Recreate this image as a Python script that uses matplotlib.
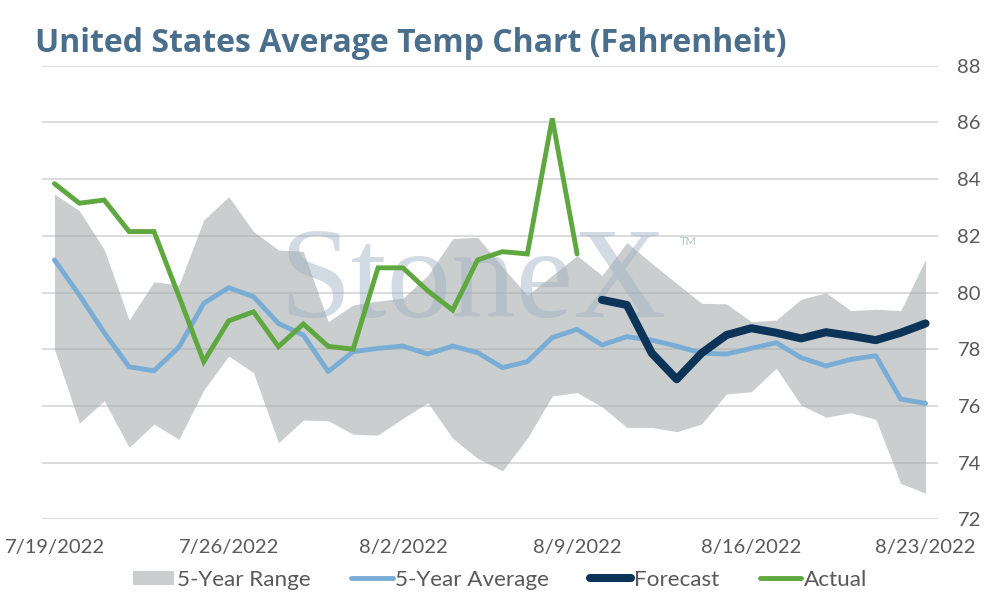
import matplotlib
matplotlib.use("Agg")
import matplotlib.pyplot as plt
from matplotlib.patches import Patch
from matplotlib.lines import Line2D
import pandas as pd

dates = pd.date_range("2022-07-19", periods=36, freq="D")

range_upper = [83.47, 82.89, 81.52, 79.03, 80.38, 80.26, 82.56, 83.38, 82.15, 81.50,
               81.45, 78.97, 79.56, 79.70, 79.80, 80.60, 81.90, 81.95, 80.90, 79.90,
               80.60, 81.30, 80.60, 81.76, 81.03, 80.32, 79.62, 79.60, 78.97, 79.03,
               79.76, 79.99, 79.36, 79.41, 79.36, 81.17]
range_lower = [78.00, 75.39, 76.18, 74.54, 75.36, 74.82, 76.56, 77.76, 77.17, 74.70,
               75.50, 75.48, 75.00, 74.97, 75.56, 76.11, 74.86, 74.15, 73.71, 74.86,
               76.35, 76.47, 75.97, 75.24, 75.24, 75.09, 75.36, 76.42, 76.50, 77.33,
               76.03, 75.60, 75.76, 75.53, 73.27, 72.92]
avg5 = [81.15, 79.91, 78.58, 77.38, 77.24, 78.07, 79.62, 80.17, 79.85, 78.91,
        78.50, 77.21, 77.91, 78.03, 78.11, 77.83, 78.11, 77.88, 77.35, 77.56,
        78.41, 78.70, 78.15, 78.44, 78.32, 78.11, 77.86, 77.83, 78.03, 78.23,
        77.70, 77.41, 77.64, 77.77, 76.24, 76.09]
actual = [83.84, 83.15, 83.26, 82.15, 82.15, 79.87, 77.56, 79.00, 79.32, 78.09,
          78.89, 78.10, 78.00, 80.87, 80.87, 80.06, 79.38, 81.15, 81.44, 81.36,
          86.14, 81.36]
forecast = [79.74, 79.56, 77.86, 76.94, 77.86, 78.50, 78.74, 78.58, 78.38, 78.60,
            78.47, 78.32, 78.58, 78.91]

tick_dates = pd.to_datetime(["2022-07-19", "2022-07-26", "2022-08-02",
                             "2022-08-09", "2022-08-16", "2022-08-23"])
tick_labels = ["7/19/2022", "7/26/2022", "8/2/2022", "8/9/2022", "8/16/2022", "8/23/2022"]
y_ticks = [72, 74, 76, 78, 80, 82, 84, 86, 88]

plt.rcParams["font.family"] = ["Lato", "DejaVu Sans"]

fig = plt.figure(figsize=(9.94, 6.0), dpi=100)
ax = fig.add_axes([42 / 994, 1 - 519.3 / 600, (938 - 42) / 994, (519.3 - 65.7) / 600])

c_band = "#a3a9ac"
c_avg = "#7aadd6"
c_fc = "#0c3358"
c_act = "#5ea83f"
c_text = "#595959"

ax.set_ylim(72, 88)
ax.set_xlim(dates[0] - pd.Timedelta(hours=12), dates[-1] + pd.Timedelta(hours=12))
ax.set_yticks(y_ticks)
ax.yaxis.tick_right()
ax.grid(axis="y", color="#d9d9d9", linewidth=1.3, zorder=0)
ax.set_axisbelow(True)
for s in ax.spines.values():
    s.set_visible(False)
ax.tick_params(axis="y", length=0, pad=14, labelsize=14.5, labelcolor=c_text)
ax.tick_params(axis="x", length=0, pad=14, labelsize=14.5, labelcolor=c_text)
ax.set_xticks(tick_dates)
ax.set_xticklabels(tick_labels)

ax.fill_between(dates, range_lower, range_upper, color=c_band, alpha=0.57,
                linewidth=0, zorder=1)

# watermark
ax.text(0.265, 0.445, "StoneX", transform=ax.transAxes, fontsize=93,
        family=["Liberation Serif"], color="#9dafc3", alpha=0.45, zorder=2,
        ha="left", va="baseline")
ax.text(0.712, 0.605, "TM", transform=ax.transAxes, fontsize=8,
        color="#b5c2d0", zorder=2, ha="left", va="baseline")

ax.plot(dates, avg5, color=c_avg, linewidth=3.5, zorder=3, solid_capstyle="round")
ax.plot(dates[:len(actual)], actual, color=c_act, linewidth=3.5, zorder=4,
        solid_capstyle="round", solid_joinstyle="miter")
ax.plot(dates[len(dates) - len(forecast):], forecast, color=c_fc, linewidth=5.8,
        zorder=5, solid_capstyle="round")

fig.text(35 / 994, 1 - 52 / 600, "United States Average Temp Chart (Fahrenheit)",
         fontsize=23, fontweight="bold", color="#4a6f8c", ha="left", va="baseline",
         family=["Open Sans", "DejaVu Sans"])

handles = [Patch(facecolor="#cbcecf", edgecolor="none"),
           Line2D([0], [0], color=c_avg, linewidth=3.5, solid_capstyle="round"),
           Line2D([0], [0], color=c_fc, linewidth=5.8, solid_capstyle="round"),
           Line2D([0], [0], color=c_act, linewidth=3.5, solid_capstyle="round")]
labels = ["5-Year Range", "5-Year Average", "Forecast", "Actual"]
leg = fig.legend(handles, labels, loc="center", bbox_to_anchor=(500 / 994, 1 - 580 / 600),
                 ncol=4, frameon=False, fontsize=16.2, handlelength=1.85,
                 handleheight=0.6, handletextpad=0.12, columnspacing=1.8,
                 labelcolor=c_text)

fig.savefig("out.png", dpi=100)
